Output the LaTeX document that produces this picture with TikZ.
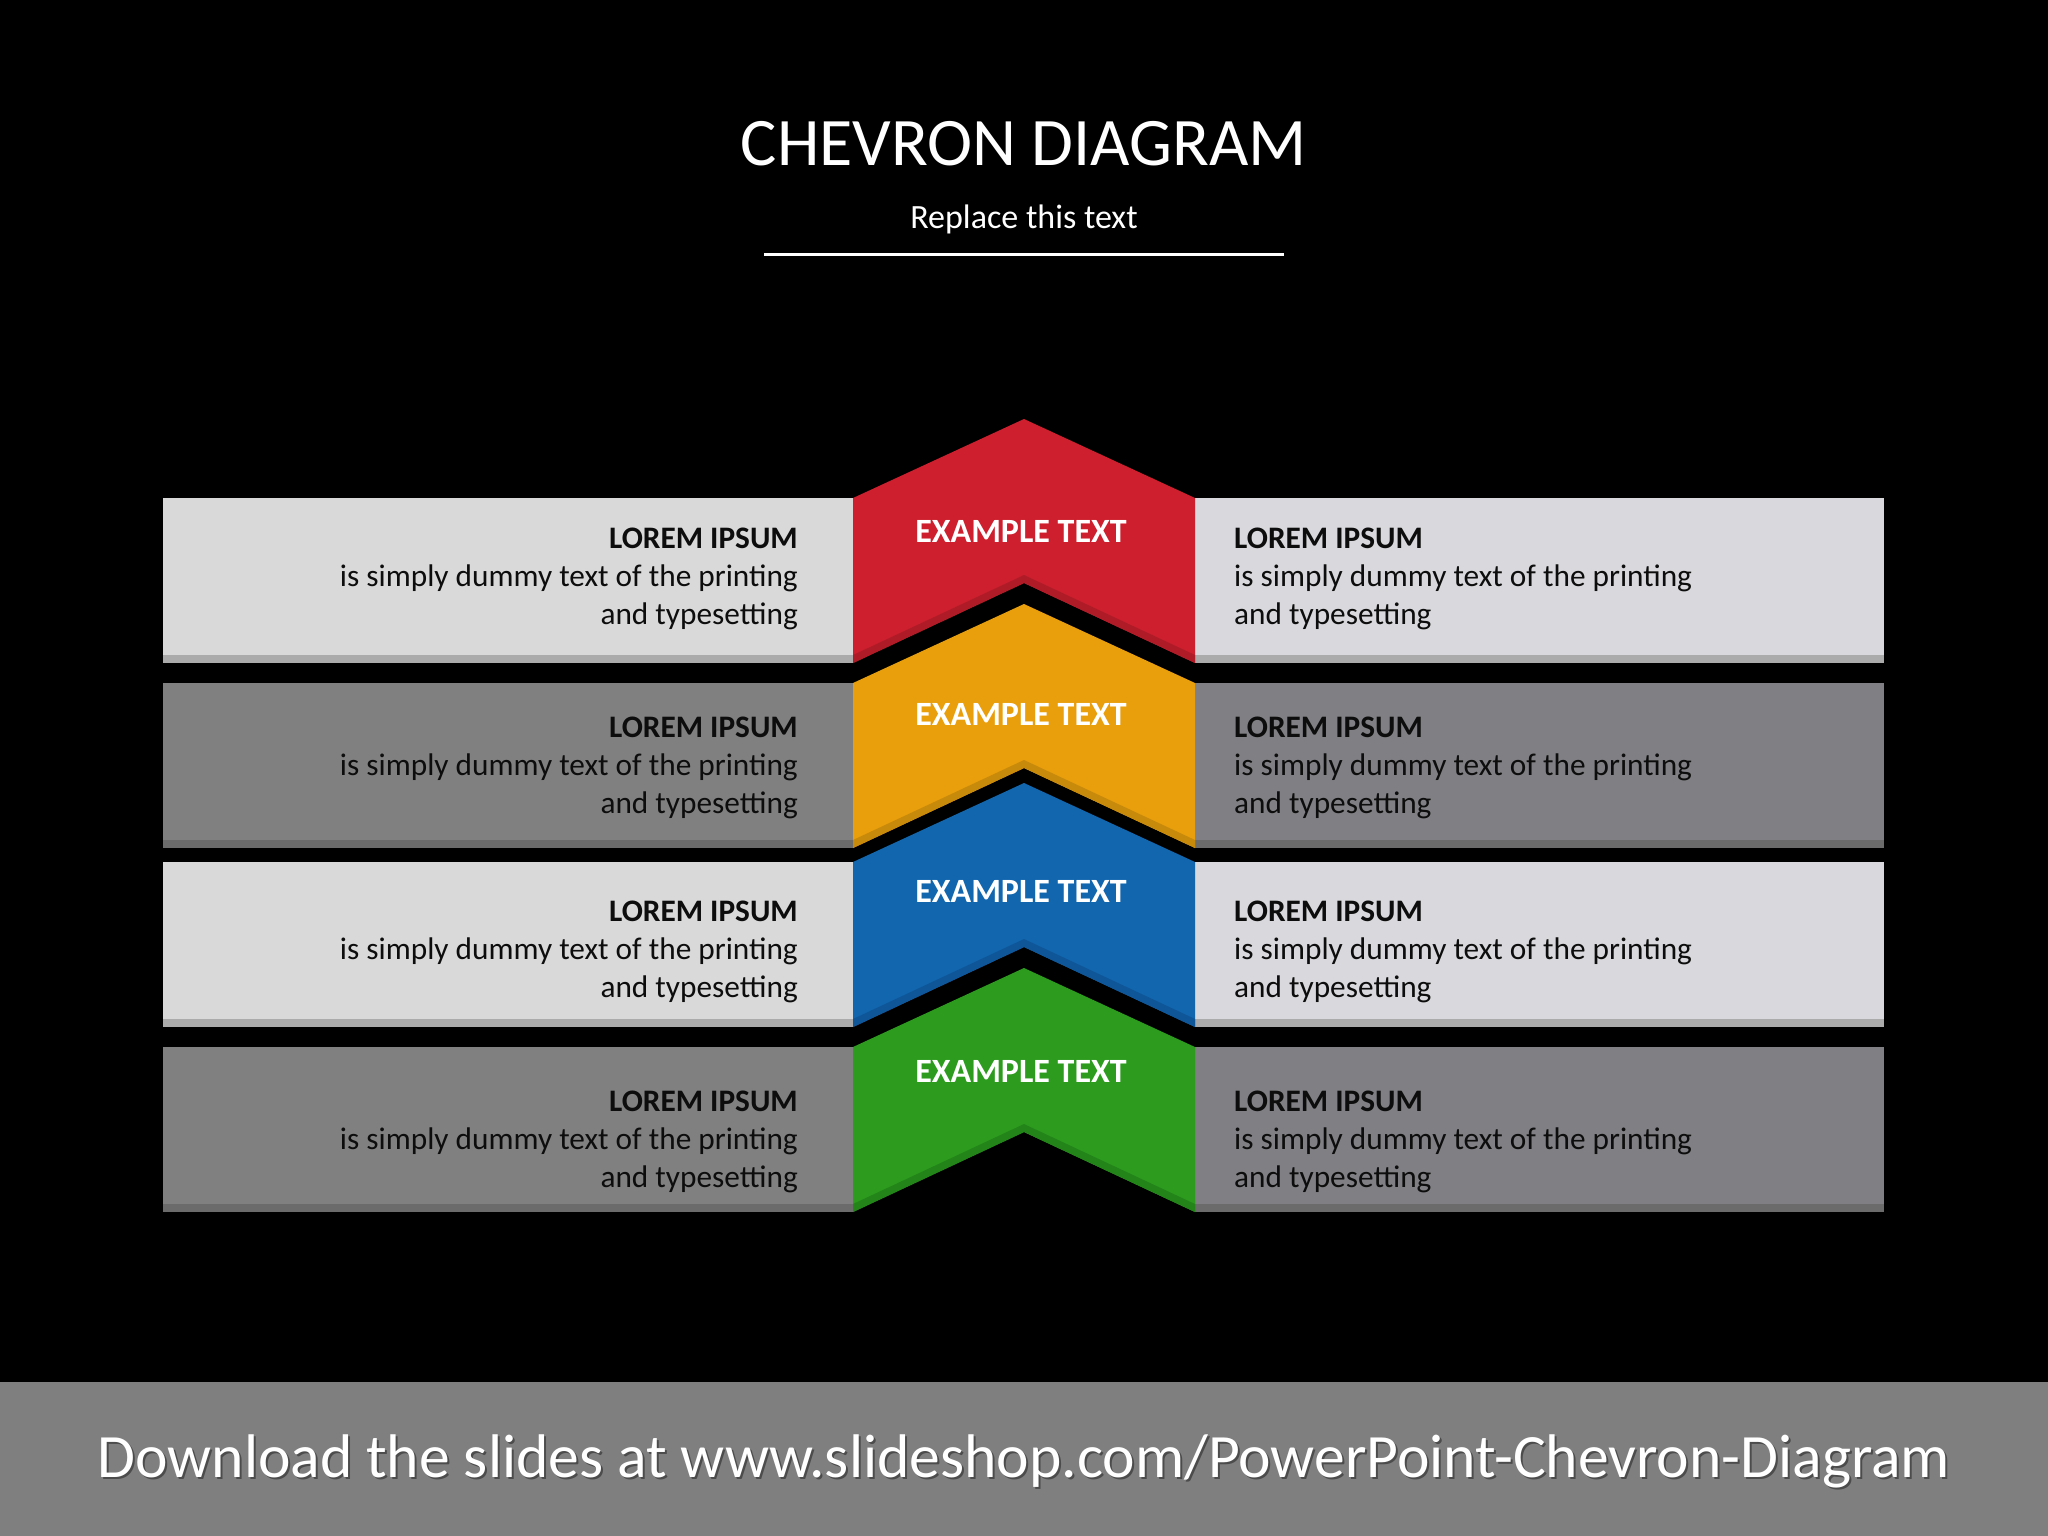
\documentclass[tikz,border=0pt]{standalone}
\usepackage{fontspec}
\setmainfont{Carlito}
\definecolor{panlight}{HTML}{D9D9D9}
\definecolor{striplight}{HTML}{ABABAB}
\definecolor{pandark}{HTML}{808080}
\definecolor{stripdark}{HTML}{6B6B6B}
\definecolor{panlightR}{HTML}{D9D8DC}
\definecolor{pandarkR}{HTML}{807F83}
\definecolor{cred}{HTML}{CD1F2D}
\definecolor{credd}{HTML}{B01B28}
\definecolor{cyel}{HTML}{E99E0C}
\definecolor{cyeld}{HTML}{C88A0B}
\definecolor{cblue}{HTML}{1166AE}
\definecolor{cblued}{HTML}{0E5698}
\definecolor{cgreen}{HTML}{2C9B1E}
\definecolor{cgreend}{HTML}{238419}
\definecolor{band}{HTML}{7F7F7F}
\definecolor{paneltext}{HTML}{0D0D0D}
\tikzset{
  paneltxt/.style={inner sep=0pt, text=paneltext, font=\fontsize{31.3}{38}\selectfont},
  extxt/.style={inner sep=0pt, text=white, font=\fontsize{34}{40}\selectfont\bfseries},
}
\begin{document}
\begin{tikzpicture}[x=1pt,y=-1pt]
\fill[black] (0,0) rectangle (2048,1536);
\useasboundingbox (0,0) rectangle (2048,1536);
% title
\node[inner sep=0pt, text=white, font=\fontsize{68}{80}\selectfont, anchor=base] (title) at (1024,165) {CHEVRON DIAGRAM};
\node[inner sep=0pt, text=white, font=\fontsize{34}{40}\selectfont, anchor=base] (subtitle) at (1024,228) {Replace this text};
\coordinate (ulA) at (764,254);
\coordinate (ulB) at (1284,254);
\draw[white, line width=3pt] (ulA) -- (ulB);
% rows
\foreach \i/\t/\b/\pc/\pr/\sc/\cc/\bc/\lo/\eo in {1/498/663/panlight/panlightR/striplight/cred/credd/50/44,
  2/683/848/pandark/pandarkR/stripdark/cyel/cyeld/54/42,
  3/862/1027/panlight/panlightR/striplight/cblue/cblued/59/40,
  4/1047/1212/pandark/pandarkR/stripdark/cgreen/cgreend/64/35}{
  \fill[\pc] (163,\t) rectangle (853,\b);
  \fill[\sc] (163,\b-8) rectangle (853,\b);
  \fill[\pr] (1195,\t) rectangle (1884,\b);
  \fill[\sc] (1195,\b-8) rectangle (1884,\b);
  \fill[\cc] (853,\t) -- (1024,\t-79) -- (1195,\t) -- (1195,\b) -- (1024,\b-80) -- (853,\b) -- cycle;
  \fill[\bc] (853,\b) -- (1024,\b-80) -- (1195,\b) -- (1195,\b-8) -- (1024,\b-88) -- (853,\b-8) -- cycle;
  \node[extxt, anchor=base] (ex\i) at (1021,\t+\eo) {EXAMPLE TEXT};
  \node[paneltxt, anchor=base east] (la\i) at (798,\t+\lo) {\bfseries LOREM IPSUM};
  \node[paneltxt, anchor=base east] (lb\i) at (798,\t+\lo+38) {is simply dummy text of the printing};
  \node[paneltxt, anchor=base east] (lc\i) at (798,\t+\lo+76) {and typesetting};
  \node[paneltxt, anchor=base west] (ra\i) at (1234,\t+\lo) {\bfseries LOREM IPSUM};
  \node[paneltxt, anchor=base west] (rb\i) at (1234,\t+\lo+38) {is simply dummy text of the printing};
  \node[paneltxt, anchor=base west] (rc\i) at (1234,\t+\lo+76) {and typesetting};
}
% footer band
\fill[band] (0,1382) rectangle (2048,1536);
\node[inner sep=0pt, text=black, opacity=0.4, font=\fontsize{61.6}{72}\selectfont, anchor=base] (footshadow) at (1026,1479) {Download the slides at www.slideshop.com/PowerPoint-Chevron-Diagram};
\node[inner sep=0pt, text=white, font=\fontsize{61.6}{72}\selectfont, anchor=base] (foot) at (1024,1477) {Download the slides at www.slideshop.com/PowerPoint-Chevron-Diagram};
\end{tikzpicture}
\end{document}
